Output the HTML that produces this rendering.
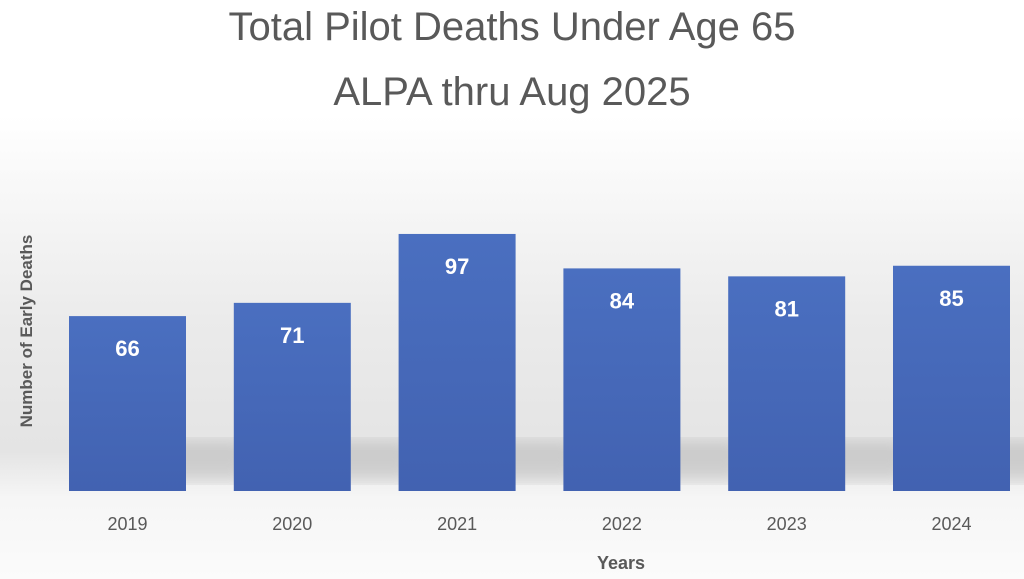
<!DOCTYPE html>
<html><head><meta charset="utf-8"><style>
html,body{margin:0;padding:0;width:1024px;height:579px;overflow:hidden;background:#fff}
svg{display:block;font-family:"Liberation Sans",sans-serif}
</style></head><body>
<svg width="1024" height="579" viewBox="0 0 1024 579">
<defs>
<linearGradient id="bg" x1="0" y1="0" x2="0" y2="1">
<stop offset="0" stop-color="#ffffff"/><stop offset="0.2" stop-color="#ffffff"/>
<stop offset="0.55" stop-color="#ebebeb"/><stop offset="0.78" stop-color="#e4e4e4"/>
<stop offset="0.86" stop-color="#f6f6f6"/><stop offset="1" stop-color="#fbfbfb"/>
</linearGradient>
<linearGradient id="barg" x1="0" y1="0" x2="0" y2="1">
<stop offset="0" stop-color="#4a6fc0"/><stop offset="1" stop-color="#4262b1"/>
</linearGradient>
<filter id="blur"><feGaussianBlur stdDeviation="8"/></filter>
</defs>
<rect width="1024" height="579" fill="url(#bg)"/>
<text x="512" y="40" text-anchor="middle" font-size="40" fill="#595959">Total Pilot Deaths Under Age 65</text>
<text x="512" y="105" text-anchor="middle" font-size="40" fill="#595959">ALPA thru Aug 2025</text>
<text transform="translate(32,331) rotate(-90)" text-anchor="middle" font-size="17" font-weight="bold" fill="#595959">Number of Early Deaths</text>
<text x="621" y="569" text-anchor="middle" font-size="18" font-weight="bold" fill="#595959">Years</text>
<g id="shadows"></g>
<g id="bars"></g>
</svg>
<script>
const categories = ["2019","2020","2021","2022","2023","2024"];
const values = [66, 71, 97, 84, 81, 85];
const ns = "http://www.w3.org/2000/svg";
const baseY = 491, pxPerUnit = 2.65, x0 = 69, step = 164.8, bw = 117;
const xPos = i => x0 + i * step;
const yPos = v => baseY - v * pxPerUnit;
const gB = document.getElementById("bars");
const gS = document.getElementById("shadows");
categories.forEach((c, i) => {
  const x = xPos(i), y = yPos(values[i]);
  const s = document.createElementNS(ns, "rect");
  s.setAttribute("x", x + 20); s.setAttribute("y", baseY - 50);
  s.setAttribute("width", bw + 40); s.setAttribute("height", 40);
  s.setAttribute("fill", "#9a9a9a"); s.setAttribute("opacity", "0.35");
  s.setAttribute("filter", "url(#blur)");
  
  
  gS.appendChild(s);
  const r = document.createElementNS(ns, "rect");
  r.setAttribute("x", x); r.setAttribute("y", y);
  r.setAttribute("width", bw); r.setAttribute("height", baseY - y);
  r.setAttribute("fill", "url(#barg)");
  
  
  gB.appendChild(r);
  const t = document.createElementNS(ns, "text");
  t.setAttribute("x", x + bw / 2); t.setAttribute("y", y + 40);
  t.setAttribute("text-anchor", "middle"); t.setAttribute("font-size", "22");
  t.setAttribute("font-weight", "bold"); t.setAttribute("fill", "#ffffff");
  t.textContent = values[i];
  
  
  gB.appendChild(t);
  const l = document.createElementNS(ns, "text");
  l.setAttribute("x", x + bw / 2); l.setAttribute("y", 530);
  l.setAttribute("text-anchor", "middle"); l.setAttribute("font-size", "18");
  l.setAttribute("fill", "#595959");
  l.textContent = c;
  
  
  gB.appendChild(l);
});
</script>
</body></html>
